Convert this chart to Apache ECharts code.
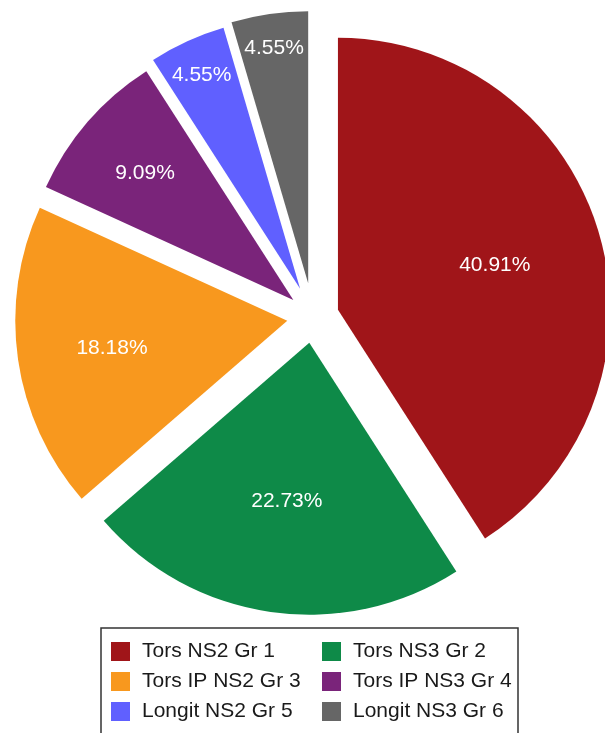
<!DOCTYPE html>
<html lang="en">
<head>
    <meta charset="UTF-8"/>
    <script src="https://cdn.jsdelivr.net/npm/echarts@6/dist/echarts.min.js"></script>
    <title>Pie</title>
    <style>
        html, body { margin: 0; padding: 0; background: #fff; }
        #pie { width: 605px; height: 733px; }
    </style>
</head>
<body>
<div id="pie"></div>
<script type="text/javascript">
    var categories = ['Tors NS2 Gr 1', 'Tors NS3 Gr 2', 'Tors IP NS2 Gr 3', 'Tors IP NS3 Gr 4', 'Longit NS2 Gr 5', 'Longit NS3 Gr 6'];
    var counts = [9, 5, 4, 2, 1, 1];
    var colors = ['#A01519', '#0E8A48', '#F8981E', '#7A247A', '#6060FF', '#666666'];
    // how far each slice is pulled out (px) and where its label sits (share of radius)
    var pullOffsets = [26, 26, 26, 26, 31, 34];
    var labelRadius = [0.59, 0.57, 0.64, 0.71, 0.86, 0.87];

    var R = 272;
    var CENTER = [313, 317];
    var total = counts.reduce(function (a, b) { return a + b; }, 0);
    var font = 'Liberation Sans, Arial, sans-serif';

    function midAngle(idx) {
        var before = 0;
        for (var i = 0; i < idx; i++) before += counts[i];
        return (before + counts[idx] / 2) / total * 2 * Math.PI;
    }

    // one pie series per slice so every slice can have its own pull;
    // the other slices of that series are left invisible
    function sliceSeries(k) {
        var data = [];
        for (var i = 0; i < categories.length; i++) {
            var own = i === k;
            data.push({
                name: categories[i],
                value: counts[i],
                selected: own,
                itemStyle: { color: own ? colors[i] : 'rgba(0,0,0,0)' },
                label: { show: own }
            });
        }
        return {
            type: 'pie',
            name: categories[k],
            center: CENTER,
            radius: R,
            startAngle: 90,
            clockwise: true,
            silent: true,
            selectedMode: 'multiple',
            selectedOffset: pullOffsets[k],
            avoidLabelOverlap: false,
            emphasis: { scale: false, disabled: true },
            label: {
                position: 'inside',
                formatter: function (p) {
                    return (p.value / total * 100).toFixed(2) + '%';
                },
                color: '#fff',
                fontSize: 21,
                fontFamily: font
            },
            labelLine: { show: false },
            labelLayout: function (params) {
                var idx = params.dataIndex;
                var a = midAngle(idx);
                var shift = (labelRadius[idx] - 0.5) * R;
                return { dx: shift * Math.sin(a), dy: -shift * Math.cos(a) + 2 };
            },
            data: data
        };
    }

    var seriesList = [];
    for (var k = 0; k < categories.length; k++) {
        seriesList.push(sliceSeries(k));
    }

    function legendItems(idxs) {
        return idxs.map(function (i) {
            return { name: categories[i], itemStyle: { color: colors[i] } };
        });
    }

    var myChart = echarts.init(document.getElementById('pie'), null, { renderer: 'canvas' });
    var legendCommon = {
        orient: 'vertical',
        top: 641,
        padding: 0,
        icon: 'rect',
        itemWidth: 19,
        itemHeight: 19,
        itemGap: 9,
        selectedMode: false,
        textStyle: { fontSize: 21, color: '#1a1a1a', fontFamily: font, padding: [0, 0, 0, 7] }
    };
    var option = {
        backgroundColor: '#fff',
        animation: false,
        legend: [
            Object.assign({}, legendCommon, { left: 111, data: legendItems([0, 2, 4]) }),
            Object.assign({}, legendCommon, { left: 322, data: legendItems([1, 3, 5]) })
        ],
        graphic: [{
            type: 'rect',
            shape: { x: 101, y: 628, width: 417, height: 130 },
            style: { fill: 'none', stroke: '#333', lineWidth: 1.5 },
            silent: true
        }],
        series: seriesList
    };
    myChart.setOption(option);
</script>
</body>
</html>
